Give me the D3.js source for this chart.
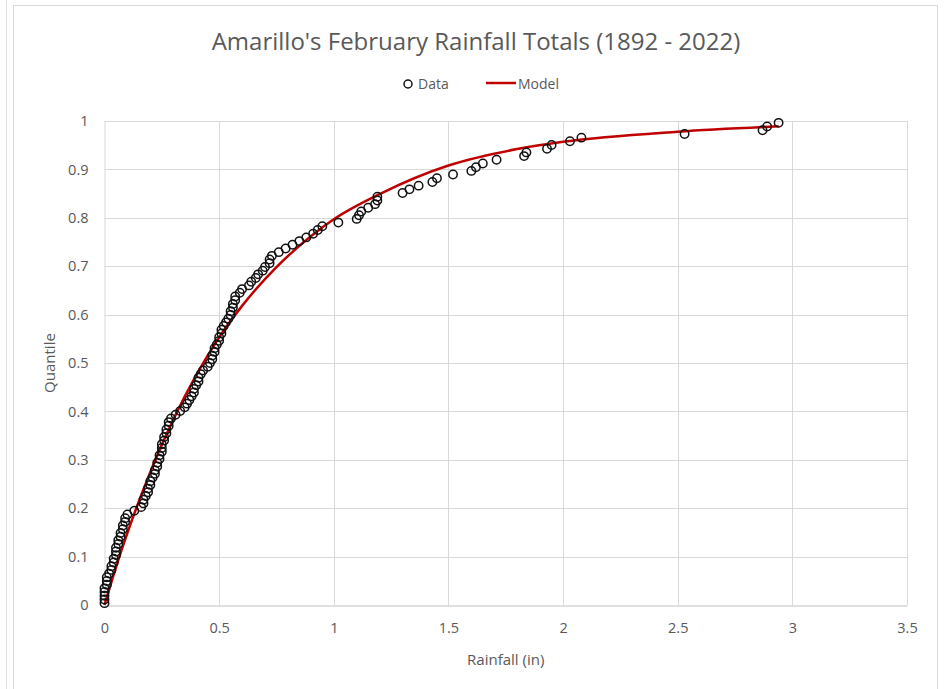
<!DOCTYPE html>
<html>
<head>
<meta charset="utf-8">
<script src="https://cdn.jsdelivr.net/npm/d3@7"></script>
<style>
  html, body { margin: 0; padding: 0; background: #ffffff; }
  svg { display: block; }
  text { font-family: "Open Sans", "Liberation Sans", sans-serif; fill: #595959; }
</style>
</head>
<body>
<svg id="chart" width="951" height="689"></svg>
<script>
// February rainfall totals (inches), sorted ascending, one per year 1892-2022
const rainfall = [
  0.00, 0.00, 0.00, 0.00, 0.00, 0.01, 0.01, 0.01, 0.02, 0.03,
  0.03, 0.04, 0.04, 0.05, 0.05, 0.05, 0.06, 0.06, 0.07, 0.07,
  0.08, 0.08, 0.09, 0.09, 0.10, 0.13, 0.16, 0.17, 0.17, 0.18,
  0.19, 0.19, 0.20, 0.20, 0.21, 0.22, 0.22, 0.23, 0.23, 0.24,
  0.24, 0.25, 0.25, 0.25, 0.26, 0.26, 0.27, 0.27, 0.28, 0.28,
  0.29, 0.31, 0.33, 0.35, 0.36, 0.37, 0.38, 0.39, 0.39, 0.40,
  0.41, 0.41, 0.42, 0.43, 0.45, 0.46, 0.47, 0.47, 0.48, 0.48,
  0.49, 0.50, 0.50, 0.51, 0.51, 0.52, 0.53, 0.54, 0.55, 0.55,
  0.56, 0.56, 0.57, 0.57, 0.59, 0.60, 0.63, 0.64, 0.66, 0.67,
  0.69, 0.70, 0.72, 0.72, 0.73, 0.76, 0.79, 0.82, 0.85, 0.88,
  0.91, 0.93, 0.95, 1.02, 1.10, 1.11, 1.12, 1.15, 1.18, 1.19,
  1.19, 1.30, 1.33, 1.37, 1.43, 1.45, 1.52, 1.60, 1.62, 1.65,
  1.71, 1.83, 1.84, 1.93, 1.95, 2.03, 2.08, 2.53, 2.87, 2.89,
  2.94
];

// Fitted model curve: rainfall (in) and its cumulative probability
const modelX = [0.00, 0.05, 0.10, 0.20, 0.30, 0.40, 0.50, 0.60, 0.75, 0.90,
                1.00, 1.20, 1.50, 1.80, 2.00, 2.50, 2.94];
const modelQ = [0.000, 0.078, 0.149, 0.275, 0.383, 0.475, 0.553, 0.618, 0.698, 0.762,
                0.797, 0.849, 0.908, 0.942, 0.957, 0.978, 0.989];

const xTicks = [0, 0.5, 1, 1.5, 2, 2.5, 3, 3.5];
const yTicks = [0, 0.1, 0.2, 0.3, 0.4, 0.5, 0.6, 0.7, 0.8, 0.9, 1];

const titleText = "Amarillo's February Rainfall Totals (1892 - 2022)";
const xTitle = "Rainfall (in)";
const yTitle = "Quantile";
const legendNames = ["Data", "Model"];

// Empirical plotting position for each sorted observation
const n = rainfall.length;
const points = rainfall.map((v, i) => ({ x: v, q: (i + 0.5) / n }));
const model = modelX.map((v, i) => ({ x: v, q: modelQ[i] }));

const svg = d3.select("#chart");

// Chart frame
svg.append("line").attr("x1", 6.5).attr("x2", 6.5).attr("y1", 0).attr("y2", 689)
  .attr("stroke", "#e3e3e3").attr("stroke-width", 1);
svg.append("rect").attr("x", 13.5).attr("y", 5.5).attr("width", 924).attr("height", 700)
  .attr("fill", "#ffffff").attr("stroke", "#d9d9d9").attr("stroke-width", 1);

const plot = { left: 104.5, right: 907, top: 121, bottom: 605 };
const x = d3.scaleLinear().domain([0, 3.5]).range([plot.left, plot.right]);
const y = d3.scaleLinear().domain([0, 1]).range([plot.bottom, plot.top]);

// Gridlines
svg.append("g").selectAll("line").data(yTicks.filter(d => d > 0)).join("line")
  .attr("x1", plot.left).attr("x2", plot.right)
  .attr("y1", d => Math.round(y(d)) + 0.5).attr("y2", d => Math.round(y(d)) + 0.5)
  .attr("stroke", "#d9d9d9").attr("stroke-width", 1);
svg.append("g").selectAll("line").data(xTicks.filter(d => d > 0)).join("line")
  .attr("x1", d => Math.round(x(d)) + 0.5).attr("x2", d => Math.round(x(d)) + 0.5)
  .attr("y1", plot.top).attr("y2", plot.bottom)
  .attr("stroke", "#d9d9d9").attr("stroke-width", 1);

// Axes
const xAxis = svg.append("g").attr("transform", `translate(0,${Math.round(plot.bottom) + 0.5})`)
  .call(d3.axisBottom(x).tickValues(xTicks).tickSize(0).tickPadding(17).tickFormat(d3.format("")));
const yAxis = svg.append("g").attr("transform", `translate(${plot.left},0)`)
  .call(d3.axisLeft(y).tickValues(yTicks).tickSize(0).tickPadding(16).tickFormat(d3.format("")));
xAxis.select(".domain").attr("stroke", "#bfbfbf");
yAxis.select(".domain").attr("stroke", "#d9d9d9");
[xAxis, yAxis].forEach(a => a.selectAll("text")
  .style("font-family", "Open Sans, Liberation Sans, sans-serif")
  .style("font-size", "14.5px").attr("fill", "#595959"));

// Model curve
svg.append("path").datum(model)
  .attr("fill", "none").attr("stroke", "#c00000").attr("stroke-width", 2.5)
  .attr("d", d3.line().x(d => x(d.x)).y(d => y(d.q)).curve(d3.curveMonotoneX));

// Data markers
svg.append("g").selectAll("circle").data(points).join("circle")
  .attr("cx", d => x(d.x)).attr("cy", d => y(d.q)).attr("r", 4.2)
  .attr("fill", "none").attr("stroke", "#111111").attr("stroke-width", 1.5);

// Titles
svg.append("text").attr("x", 476).attr("y", 50).attr("text-anchor", "middle")
  .style("font-size", "24px").text(titleText);
svg.append("text").attr("x", (plot.left + plot.right) / 2).attr("y", 665).attr("text-anchor", "middle")
  .style("font-size", "15px").text(xTitle);
svg.append("text").attr("transform", `translate(55,${(plot.top + plot.bottom) / 2}) rotate(-90)`)
  .attr("text-anchor", "middle").style("font-size", "15px").text(yTitle);

// Legend
const lg = svg.append("g");
lg.append("circle").attr("cx", 408).attr("cy", 84).attr("r", 4)
  .attr("fill", "none").attr("stroke", "#111111").attr("stroke-width", 1.5);
lg.append("text").attr("x", 418).attr("y", 89).style("font-size", "14px").text(legendNames[0]);
lg.append("line").attr("x1", 486).attr("x2", 516).attr("y1", 83).attr("y2", 83)
  .attr("stroke", "#c00000").attr("stroke-width", 2.5);
lg.append("text").attr("x", 518).attr("y", 89).style("font-size", "14px").text(legendNames[1]);
</script>
</body>
</html>
